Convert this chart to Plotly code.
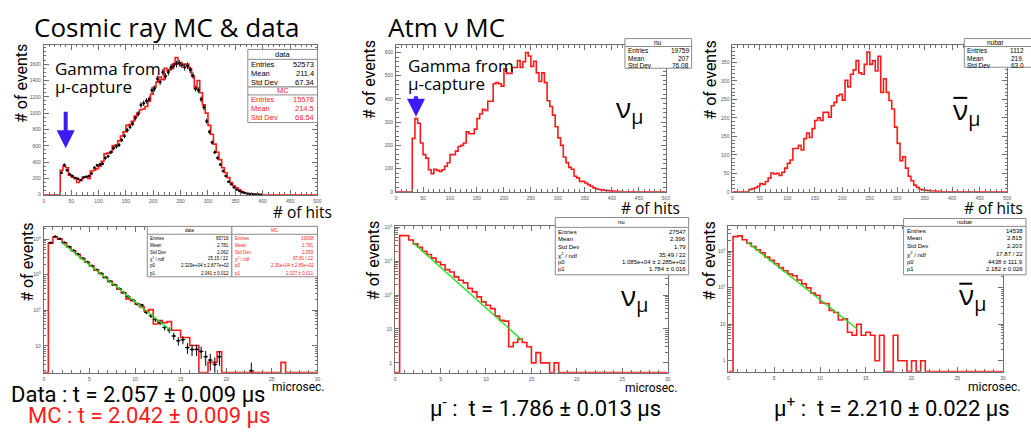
import numpy as np
import plotly.graph_objects as go

W, H = 1031, 432

# ---------------- data ----------------
hits_bin_width = 5
hits_range = (0, 500)
hits_ticks = [0, 50, 100, 150, 200, 250, 300, 350, 400, 450, 500]

# cosmic ray: MC histogram (bins starting at 30 hits) and data points
cr_mc_start = 30
cr_mc = [300, 350, 330, 240, 215, 200, 150, 175, 215, 220,
         200, 290, 300, 320, 350, 410, 500, 510, 520, 600,
         610, 660, 720, 770, 850, 860, 900, 960, 1000, 1040,
         1050, 1080, 1150, 1230, 1320, 1380, 1440, 1410, 1550, 1520,
         1540, 1600, 1680, 1620, 1580, 1600, 1600, 1550, 1450, 1300,
         1400, 1250, 1100, 1000, 850, 740, 620, 520, 430, 330,
         270, 210, 150, 110, 85, 60, 40, 25, 15, 10,
         6, 4, 2, 1]
cr_data_start = 30
cr_data = [270, 365, 300, 250, 230, 205, 195, 180, 210, 220,
           230, 260, 330, 360, 370, 380, 450, 470, 520, 570,
           590, 610, 670, 720, 790, 830, 870, 940, 990, 1100,
           1120, 1150, 1170, 1280, 1300, 1420, 1380, 1500, 1450, 1500,
           1560, 1580, 1600, 1610, 1590, 1560, 1580, 1530, 1460, 1300,
           1280, 1170, 1070, 900, 770, 640, 520, 450, 370, 290,
           230, 160, 130, 90, 65, 45, 30, 20, 12, 8,
           5, 3, 2, 1]

nu_hits_start = 30
nu_hits = [230, 315, 295, 210, 160, 145, 95, 78, 97, 92,
           88, 95, 110, 125, 160, 160, 175, 195, 200, 210,
           258, 250, 250, 270, 315, 335, 355, 350, 390, 390,
           465, 470, 465, 455, 530, 510, 510, 535, 535, 565,
           535, 560, 600, 585, 540, 562, 512, 475, 512, 470,
           392, 367, 330, 280, 232, 200, 150, 125, 105, 97,
           67, 60, 45, 45, 38, 31, 24, 17, 12, 10,
           8, 6, 5, 4, 3, 2, 1, 1]

nubar_hits_start = 30
nubar_hits = [6, 8, 11, 15, 22, 20, 28, 37, 51, 48,
              50, 44, 53, 64, 77, 86, 117, 117, 126, 113,
              144, 159, 147, 171, 193, 200, 193, 215, 215, 202,
              233, 242, 260, 264, 248, 302, 284, 318, 330, 355,
              322, 318, 345, 378, 345, 355, 327, 367, 269, 306,
              269, 247, 224, 175, 131, 84, 95, 64, 42, 30,
              18, 12, 7, 5, 4, 3, 2, 2, 1, 1]

t_bin_width = 0.5
t_range = (0, 30)
t_ticks = [0, 5, 10, 15, 20, 25, 30]

cr_t_mc = [0, 7700, 11500, 10000, 7900, 6000, 4700, 3700, 2850, 2250,
           1750, 1350, 1080, 830, 650, 510, 390, 310, 210, 185,
           150, 125, 95, 105, 41.4, 51.7, 44.8, 48.3, 27.6, 27.6,
           17.2, 17.2, 10.3, 10.3, 0, 0, 3.45, 3.45, 6.9, 0,
           0, 0, 0, 0, 0, 0, 0, 0, 0, 0,
           0, 0, 3.45, 0, 0, 0, 0, 0, 0, 0]
cr_t_data = [0, 7900, 11800, 10200, 8000, 6100, 4800, 3750, 2900, 2270,
             1780, 1390, 1090, 850, 660, 520, 405, 315, 245, 195,
             150, 140, 87, 70, 55, 45, 33, 28, 19, 14,
             15, 9, 8, 8, 7, 5, 4, 3, 5, 0,
             0, 0, 0, 0, 0, 2, 0, 0, 0, 0,
             0, 0, 0, 0, 0, 0, 0, 0, 0, 0]
nu_t = [0, 5700, 5700, 4250, 3250, 2600, 1980, 1580, 1240, 950,
        790, 565, 480, 345, 275, 230, 158, 125, 89, 63,
        50, 40, 24, 18, 17, 3, 4, 5, 4, 3,
        1, 2, 1, 1, 0, 1, 0, 0, 0, 0,
        0, 0, 0, 0, 0, 0, 0, 0, 0, 0,
        0, 0, 0, 0, 0, 0, 0, 0, 0, 0]
nubar_t = [0, 2500, 2630, 2050, 1670, 1350, 1100, 900, 690, 560,
           455, 355, 290, 235, 213, 162, 127, 99, 71, 62,
           38, 37, 24, 21, 13, 14, 6, 5, 10, 5,
           6, 5, 1, 5, 0, 0, 5, 1, 1, 0,
           1, 0, 1, 0, 0, 0, 0, 0, 0, 0,
           0, 0, 0, 0, 0, 0, 0, 0, 0, 0]

# fitted exponentials: end points of the green lines
fit_t = [2, 14]
cr_fit = [7900, 26]
nu_fit = [3500, 4.6]
nubar_fit = [1800, 7.6]

# y-axis ticks
cr_hits_yticks = [0, 200, 400, 600, 800, 1000, 1200, 1400, 1600]
nu_hits_yticks = [0, 100, 200, 300, 400, 500, 600]
nubar_hits_yticks = [0, 50, 100, 150, 200, 250, 300, 350]
log_tickvals = [1, 10, 100, 1000, 10000]
log_ticktext = ["1", "10", "10<sup>2</sup>", "10<sup>3</sup>", "10<sup>4</sup>"]

# statistics boxes
cr_hits_stats_data = [("Entries", "52573"), ("Mean", "211.4"), ("Std Dev", "67.34")]
cr_hits_stats_mc = [("Entries", "15576"), ("Mean", "214.5"), ("Std Dev", "68.54")]
nu_hits_stats = [("Entries", "19759"), ("Mean", "207"), ("Std Dev", "76.08")]
nubar_hits_stats = [("Entries", "1112"), ("Mean", "219."), ("Std Dev", "63.0")]
cr_t_stats_data = [("Entries", "65716"), ("Mean", "2.781"), ("Std Dev", "2.062"),
                   ("χ<sup>2</sup> / ndf", "25.15 / 22"),
                   ("p0", "2.329e+04 ± 2.877e+02"), ("p1", "2.041 ± 0.012")]
cr_t_stats_mc = [("Entries", "19068"), ("Mean", "2.781"), ("Std Dev", "2.059"),
                 ("χ<sup>2</sup> / ndf", "97.81 / 22"),
                 ("p0", "2.35e+04 ± 2.89e+02"), ("p1", "2.027 ± 0.011")]
nu_t_stats = [("Entries", "27547"), ("Mean", "2.396"), ("Std Dev", "1.79"),
              ("χ<sup>2</sup> / ndf", "35.49 / 22"),
              ("p0", "1.085e+04 ± 2.285e+02"), ("p1", "1.784 ± 0.016")]
nubar_t_stats = [("Entries", "14538"), ("Mean", "2.815"), ("Std Dev", "2.203"),
                 ("χ<sup>2</sup> / ndf", "17.87 / 22"),
                 ("p0", "4438 ± 111.9"), ("p1", "2.182 ± 0.026")]

# ---------------- helpers ----------------
def PX(x):
    return x / W


def PY(y):
    return 1 - y / H


RED = "#ff1a1a"
GREEN = "#22e022"
BLUE = "#3c1cf2"
AXC = "#707070"
TICKF = dict(family="Liberation Sans, Arial, sans-serif", size=5, color="#555")
BIG = "Open Sans, DejaVu Sans, sans-serif"
NARROW = "Roboto, sans-serif"

fig = go.Figure()
layout = dict(width=W, height=H, autosize=False,
              margin=dict(l=0, r=0, t=0, b=0),
              paper_bgcolor="white", plot_bgcolor="white",
              showlegend=False)
shapes, annos = [], []


def axnames(i):
    return ("x" if i == 1 else f"x{i}"), ("y" if i == 1 else f"y{i}")


def setup_axes(i, xpx, ypx, xr, xticks, xminor, yr, ylog=False, yticks=None,
               yminor=None, ytext=None):
    xa, ya = axnames(i)
    xkey = "xaxis" if i == 1 else f"xaxis{i}"
    ykey = "yaxis" if i == 1 else f"yaxis{i}"
    layout[xkey] = dict(domain=[PX(xpx[0]), PX(xpx[1])], anchor=ya, range=list(xr),
                        tickmode="array", tickvals=xticks,
                        ticks="inside", ticklen=5, tickcolor=AXC, tickwidth=1,
                        minor=dict(ticks="inside", ticklen=2.5, tickcolor=AXC, dtick=xminor),
                        showline=True, linecolor=AXC, linewidth=1, mirror="ticks",
                        showgrid=False, zeroline=False, tickfont=TICKF, ticklabelstandoff=1)
    yd = dict(domain=[PY(ypx[1]), PY(ypx[0])], anchor=xa, range=list(yr),
              ticks="inside", ticklen=5, tickcolor=AXC, tickwidth=1,
              showline=True, linecolor=AXC, linewidth=1, mirror="ticks",
              showgrid=False, zeroline=False, tickfont=TICKF, ticklabelstandoff=1)
    if ylog:
        yd.update(type="log", tickmode="array", tickvals=yticks, ticktext=ytext,
                  minor=dict(ticks="inside", ticklen=2.5, tickcolor=AXC,
                             tickvals=yminor, showgrid=False))
    else:
        yd.update(tickmode="array", tickvals=yticks,
                  minor=dict(ticks="inside", ticklen=2.5, tickcolor=AXC, dtick=yminor))
    layout[ykey] = yd


def add_hist(i, start, width, vals, lo, hi, floor=None, color=RED):
    xa, ya = axnames(i)
    n_total = int(round((hi - lo) / width))
    n_before = int(round((start - lo) / width))
    full = [0] * n_before + list(vals)
    full += [0] * (n_total - len(full))
    edges = lo + width * np.arange(n_total + 1)
    y = full + [full[-1]]
    if floor is not None:
        y = [v if v > 0 else floor for v in y]
    fig.add_trace(go.Scatter(x=edges, y=y, mode="lines", xaxis=xa, yaxis=ya,
                             line=dict(color=color, width=1.6, shape="hv"),
                             hoverinfo="skip"))


def add_points(i, start, width, vals):
    xa, ya = axnames(i)
    xs, ys, es = [], [], []
    for k, v in enumerate(vals):
        if v > 0:
            xs.append(start + width * (k + 0.5))
            ys.append(v)
            es.append(float(np.sqrt(v)))
    fig.add_trace(go.Scatter(x=xs, y=ys, mode="markers", xaxis=xa, yaxis=ya,
                             marker=dict(color="black", size=2.5),
                             error_x=dict(type="constant", value=width / 2, color="black",
                                          thickness=1, width=0),
                             error_y=dict(type="data", array=es, color="black",
                                          thickness=1, width=0),
                             hoverinfo="skip"))


def add_fit(i, xs, ys):
    xa, ya = axnames(i)
    fig.add_trace(go.Scatter(x=xs, y=ys, mode="lines", xaxis=xa, yaxis=ya,
                             line=dict(color=GREEN, width=1.4), hoverinfo="skip"))


def text(x, y, s, size, color="black", family=BIG, xanchor="left", angle=0,
         yanchor="middle"):
    annos.append(dict(x=PX(x), y=PY(y), xref="paper", yref="paper", text=s,
                      showarrow=False, xanchor=xanchor, yanchor=yanchor,
                      textangle=angle, borderpad=0,
                      font=dict(family=family, size=size, color=color)))


def hline(x0, x1, y, color="#8a8a8a", width=1):
    shapes.append(dict(type="line", xref="paper", yref="paper", x0=PX(x0), x1=PX(x1),
                       y0=PY(y), y1=PY(y), line=dict(color=color, width=width)))


def stat_box(x0, x1, y0, y1, header, header_y, sep_y, rows, row_y, size, color="black"):
    shapes.append(dict(type="rect", xref="paper", yref="paper", x0=PX(x0), x1=PX(x1),
                       y0=PY(y1), y1=PY(y0), fillcolor="white",
                       line=dict(color="#8a8a8a", width=1), layer="above"))
    hline(x0, x1, sep_y)
    fam = "Liberation Sans, Arial, sans-serif"
    text((x0 + min(x1, W)) / 2, header_y, header, size, color, fam, "center")
    for (lab, val), yy in zip(rows, row_y):
        text(x0 + 2, yy, lab, size, color, fam, "left")
        text(min(x1, W) - 2, yy, val, size, color, fam, "right")


# ---------------- panels ----------------
setup_axes(1, (43, 318), (43, 195), hits_range, hits_ticks, 10, (0, 1840),
           yticks=cr_hits_yticks, yminor=50)
add_hist(1, cr_mc_start, hits_bin_width, cr_mc, *hits_range)
add_points(1, cr_data_start, hits_bin_width, cr_data)

setup_axes(2, (397, 668), (44, 192), hits_range, hits_ticks, 10, (0, 630),
           yticks=nu_hits_yticks, yminor=20)
add_hist(2, nu_hits_start, hits_bin_width, nu_hits, *hits_range)

setup_axes(3, (735, 1011), (44, 192), hits_range, hits_ticks, 10, (0, 396),
           yticks=nubar_hits_yticks, yminor=10)
add_hist(3, nubar_hits_start, hits_bin_width, nubar_hits, *hits_range)


def minor_log(lo, hi):
    out = []
    for d in range(lo, hi + 1):
        for m in range(2, 10):
            out.append(m * 10 ** d)
    return out


bl_range = (0.25, 4.33)
setup_axes(4, (43, 318), (228, 375), t_range, t_ticks, 1, bl_range, ylog=True,
           yticks=log_tickvals, yminor=minor_log(0, 4), ytext=log_ticktext)
add_hist(4, 0, t_bin_width, cr_t_mc, *t_range, floor=10 ** bl_range[0])
add_points(4, 0, t_bin_width, cr_t_data)
add_fit(4, fit_t, cr_fit)

bm_range = (-0.29, 4.03)
setup_axes(5, (396, 670), (227, 375), t_range, t_ticks, 1, bm_range, ylog=True,
           yticks=log_tickvals, yminor=minor_log(0, 4), ytext=log_ticktext)
add_hist(5, 0, t_bin_width, nu_t, *t_range, floor=10 ** bm_range[0])
add_fit(5, fit_t, nu_fit)

br_range = (-0.30, 3.68)
setup_axes(6, (731, 1007), (227, 374), t_range, t_ticks, 1, br_range, ylog=True,
           yticks=log_tickvals, yminor=minor_log(0, 3), ytext=log_ticktext)
add_hist(6, 0, t_bin_width, nubar_t, *t_range, floor=10 ** br_range[0])
add_fit(6, fit_t, nubar_fit)

# ---------------- stat boxes ----------------
stat_box(248, 318, 48, 86, "data", 53, 58, cr_hits_stats_data, [63, 72, 81], 7.5)
stat_box(248, 318, 86, 122, "MC", 90, 94, cr_hits_stats_mc, [99, 108, 117], 7.5, RED)
stat_box(627, 694, 37, 67, "nu", 41, 45, nu_hits_stats, [49.5, 57, 64], 6.5)
stat_box(968, 1040, 37, 66, "nubar", 41, 45, nubar_hits_stats, [49.5, 57, 64], 6.5)
rows6 = [239, 246, 253, 260, 267, 274.5]
stat_box(147, 232, 227, 278, "data", 231, 235, cr_t_stats_data, rows6, 4.5)
stat_box(232, 318, 227, 278, "MC", 231, 235, cr_t_stats_mc, rows6, 4.5, RED)
rows6b = [232.5, 240, 247.5, 255.5, 263, 270.5]
stat_box(557, 691, 218, 276, "nu", 223, 228, nu_t_stats, rows6b, 6)
rows6c = [231.5, 239, 247, 255, 263, 270.5]
stat_box(907, 1030, 219, 276, "nubar", 223, 227, nubar_t_stats, rows6c, 6)

# ---------------- texts ----------------
text(32, 25, "Cosmic ray MC &amp; data", 26)
text(388, 25, "Atm ν MC", 26)

text(53, 67, "Gamma from", 17)
text(53, 85, "μ-capture", 17)
text(408, 64, "Gamma from", 17)
text(408, 82, "μ-capture", 17)

for (x, y0, y1) in [(65, 110, 148), (417, 94, 116)]:
    annos.append(dict(x=PX(x), y=PY(y1), xref="paper", yref="paper", text="",
                      showarrow=True, ax=0, ay=-(y1 - y0), arrowhead=2, arrowsize=0.9,
                      arrowwidth=4, arrowcolor=BLUE, standoff=0))

for (x, y) in [(20, 82), (370, 79), (713, 79), (27, 263), (375, 262), (712, 262)]:
    text(x, y, "# of events", 16, family=NARROW, xanchor="center", angle=-90)

for (x, y) in [(334, 212), (683, 208.5), (1028, 208.5)]:
    text(x, y, "# of hits", 15.5, xanchor="right")
for (x, y) in [(327, 390), (681, 391), (1026, 390)]:
    text(x, y, "microsec.", 12, family=NARROW, xanchor="right")

text(617, 108, "ν<sub>μ</sub>", 28)
text(622, 298, "ν<sub>μ</sub>", 28)
text(956, 110, "ν<sub>μ</sub>", 28)
text(962, 297, "ν<sub>μ</sub>", 28)
hline(957, 971, 97, color="black", width=2)
hline(963, 976, 285, color="black", width=2)

text(9, 397, "Data : t = 2.057 ± 0.009 μs", 22, family=NARROW)
text(26, 432, "MC : t = 2.042 ± 0.009 μs", 22, color=RED, family=NARROW,
     yanchor="bottom")
text(430, 410, "μ<sup>-</sup> :  t = 1.786 ± 0.013 μs", 22, family=NARROW)
text(776, 410, "μ<sup>+</sup> :  t = 2.210 ± 0.022 μs", 22, family=NARROW)

layout["shapes"] = shapes
layout["annotations"] = annos
fig.update_layout(**layout)
fig.write_html("out.html",
               config={"displayModeBar": False},
               post_script="document.body.style.margin='0px';"
                           "document.body.style.overflow='hidden';")
